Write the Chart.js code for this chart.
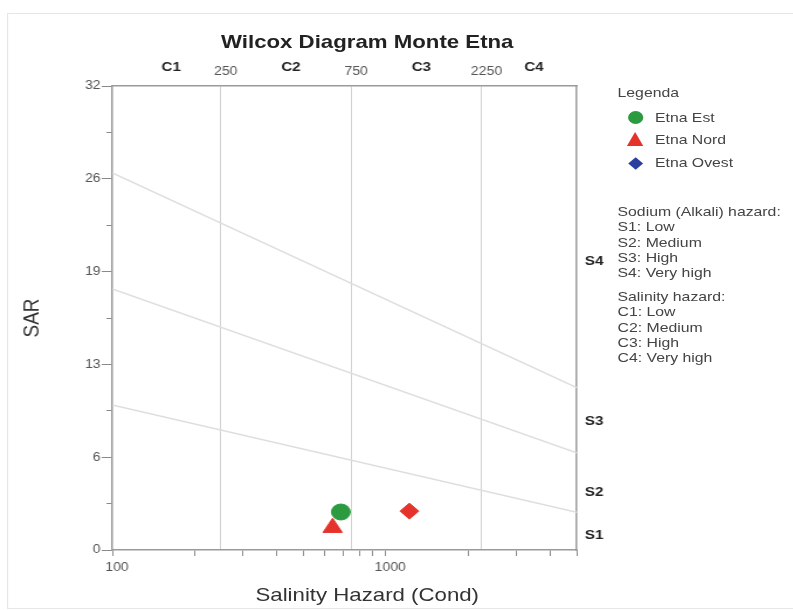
<!DOCTYPE html>
<html>
<head>
<meta charset="utf-8">
<script src="https://cdn.jsdelivr.net/npm/chart.js@4/dist/chart.umd.min.js"></script>
<style>
    html, body { margin: 0; padding: 0; background: #fff; overflow: hidden; width: 793px; height: 610px; }
    #wrap { position: absolute; left: 0; top: 0; width: 678px; height: 610px; transform: scaleX(1.1696); transform-origin: 0 0; font-family: "Liberation Sans", Arial, sans-serif; }
    #frame { position: absolute; left: 6px; top: 13px; width: 720px; height: 594px; border: 1px solid #e6e6e6; }
    #chart { position: absolute; left: 0; top: 0; }
    .txt { position: absolute; white-space: nowrap; }
    #title { left: 314px; top: 30px; transform: translateX(-50%); font-size: 19px; font-weight: bold; color: #222; line-height: 23px; }
    #xtitle { left: 314px; top: 583px; transform: translateX(-50%); font-size: 19px; color: #333; line-height: 23px; }
    #legend { left: 528px; top: 0; font-size: 13.5px; color: #444; }
    #legend .row { position: absolute; left: 0; white-space: nowrap; line-height: 16px; }
    .mk { position: absolute; }
    .block { position: absolute; left: 0; line-height: 15.3px; white-space: nowrap; }
</style>
</head>
<body>
<div id="wrap">
    <div id="frame"></div>
    <canvas id="chart" width="678" height="610"></canvas>
    <div id="title" class="txt">Wilcox Diagram Monte Etna</div>
    <div id="xtitle" class="txt">Salinity Hazard (Cond)</div>
    <div id="legend" class="txt"></div>
</div>
<script>
// salinity (conductivity) axis
const xTickValues = [100, 200, 300, 400, 500, 600, 700, 800, 900, 1000, 2000, 3000, 4000, 5000];
const xTickLabels = ['100', '', '', '', '', '', '', '', '', '1000', '', '', '', ''];
const topTickValues = [158, 250, 433, 750, 1299, 2250, 3354];
const topTickLabels = ['C1', '250', 'C2', '750', 'C3', '2250', 'C4'];

// SAR axis
const sarTickValues = [0, 3.2, 6.4, 9.6, 12.8, 16, 19.2, 22.4, 25.6, 28.8, 32];
const sarTickLabels = ['0', '', '6', '', '13', '', '19', '', '26', '', '32'];
const sClassValues = [1.0, 4.0, 8.9, 19.9];
const sClassLabels = ['S1', 'S2', 'S3', 'S4'];

// hazard class boundaries (SAR at cond 100 and 5000)
const boundaryCond = [100, 5000];
const boundaryS1S2 = [10, 2.6];
const boundaryS2S3 = [18, 6.7];
const boundaryS3S4 = [26, 11.2];

// samples
const sampleNames = ['Etna Est', 'Etna Nord', 'Etna Ovest'];
const sampleCond = [686, 640, 1222];
const sampleSAR = [2.62, 1.54, 2.68];

const legendNotes = [
    ['Sodium (Alkali) hazard:', 'S1: Low', 'S2: Medium', 'S3: High', 'S4: Very high'],
    ['Salinity hazard:', 'C1: Low', 'C2: Medium', 'C3: High', 'C4: Very high']
];

const GREEN = '#2c9a3e';
const RED = '#e5332c';
const BLUE = '#2b3f9e';

Chart.defaults.font.family = '"Liberation Sans", Arial, sans-serif';

function boundary(values) {
    return {
        type: 'line',
        data: boundaryCond.map((c, i) => ({ x: c, y: values[i] })),
        showLine: true,
        borderColor: '#dedede',
        borderWidth: 1.5,
        pointRadius: 0,
        fill: false
    };
}

function sample(i, style, color, radius) {
    return {
        label: sampleNames[i],
        data: [{ x: sampleCond[i], y: sampleSAR[i] }],
        pointStyle: style,
        pointRadius: radius,
        backgroundColor: color,
        borderColor: color,
        borderWidth: 1
    };
}

const ctx = document.getElementById('chart').getContext('2d');
new Chart(ctx, {
    type: 'scatter',
    data: {
        datasets: [
            boundary(boundaryS1S2),
            boundary(boundaryS2S3),
            boundary(boundaryS3S4),
            sample(0, 'circle', GREEN, 8),
            sample(1, 'triangle', RED, 9.5),
            sample(2, 'rectRot', RED, 8)
        ]
    },
    options: {
        responsive: false,
        animation: false,
        layout: { padding: 0 },
        plugins: {
            legend: { display: false },
            tooltip: { enabled: false }
        },
        scales: {
            x: {
                type: 'logarithmic',
                position: 'bottom',
                min: 100,
                max: 5000,
                afterBuildTicks: (scale) => { scale.ticks = xTickValues.map(v => ({ value: v })); },
                afterFit: (scale) => { scale.height = 60; },
                ticks: {
                    callback: (v, i) => xTickLabels[i],
                    autoSkip: false,
                    maxRotation: 0,
                    padding: 4,
                    labelOffset: 4,
                    color: '#555',
                    font: { size: 12 }
                },
                grid: { drawOnChartArea: false, tickLength: 6, tickColor: '#8a8a8a' },
                border: { color: '#9a9a9a', width: 1.5 }
            },
            xTop: {
                type: 'logarithmic',
                position: 'top',
                min: 100,
                max: 5000,
                afterBuildTicks: (scale) => { scale.ticks = topTickValues.map(v => ({ value: v })); },
                afterFit: (scale) => { scale.height = 86; },
                ticks: {
                    callback: (v, i) => topTickLabels[i],
                    autoSkip: false,
                    maxRotation: 0,
                    padding: 7,
                    labelOffset: 4,
                    color: (c) => topTickLabels[c.index].startsWith('C') ? '#222' : '#555',
                    font: (c) => topTickLabels[c.index].startsWith('C')
                        ? { size: 13, weight: 'bold', lineHeight: '24px' }
                        : { size: 12, lineHeight: 1.2 }
                },
                grid: {
                    drawTicks: false,
                    color: (c) => (c.tick && topTickLabels[c.index].startsWith('C')) ? 'rgba(0,0,0,0)' : '#d2d2d2',
                    lineWidth: 1
                },
                border: { color: '#9a9a9a', width: 1.5 }
            },
            y: {
                type: 'linear',
                position: 'left',
                min: 0,
                max: 32,
                afterBuildTicks: (scale) => { scale.ticks = sarTickValues.map(v => ({ value: v })); },
                afterFit: (scale) => { scale.width = 96; },
                title: {
                    display: true,
                    text: 'SAR',
                    color: '#333',
                    font: { size: 19 },
                    padding: { top: 16, bottom: 0 }
                },
                ticks: {
                    callback: (v, i) => sarTickLabels[i],
                    autoSkip: false,
                    padding: 1,
                    color: '#555',
                    font: { size: 12 }
                },
                grid: {
                    drawOnChartArea: false,
                    tickLength: 9,
                    tickColor: '#8a8a8a',
                    tickBorderDash: (c) => sarTickLabels[c.index] === '' ? [0, 4, 5, 20] : []
                },
                border: { color: '#9a9a9a', width: 1.5 }
            },
            yRight: {
                type: 'linear',
                position: 'right',
                min: 0,
                max: 32,
                afterBuildTicks: (scale) => { scale.ticks = sClassValues.map(v => ({ value: v })); },
                afterFit: (scale) => { scale.width = 185; },
                ticks: {
                    callback: (v, i) => sClassLabels[i],
                    autoSkip: false,
                    padding: 7,
                    color: '#222',
                    font: { size: 13, weight: 'bold' }
                },
                grid: { drawOnChartArea: false, drawTicks: false },
                border: { color: '#9a9a9a', width: 1.5 }
            }
        }
    }
});

// legend panel
const legend = document.getElementById('legend');
function addRow(text, top, left) {
    const d = document.createElement('div');
    d.className = 'row';
    d.style.top = top + 'px';
    d.style.left = left + 'px';
    d.textContent = text;
    legend.appendChild(d);
}
addRow('Legenda', 85, 0);

const markerRows = [117.7, 140, 163];
const markerHtml = [
    `<div class="mk" style="left:9px;top:-6.5px;width:13px;height:13px;border-radius:50%;background:${GREEN}"></div>`,
    `<div class="mk" style="left:8px;top:-8px;width:0;height:0;border-left:7.5px solid transparent;border-right:7.5px solid transparent;border-bottom:14px solid ${RED}"></div>`,
    `<div class="mk" style="left:11px;top:-4.5px;width:9px;height:9px;transform:rotate(45deg);background:${BLUE}"></div>`
];
sampleNames.forEach((name, i) => {
    const holder = document.createElement('div');
    holder.style.position = 'absolute';
    holder.style.left = '0';
    holder.style.top = markerRows[i] + 'px';
    holder.innerHTML = markerHtml[i];
    legend.appendChild(holder);
    addRow(name, markerRows[i] - 8, 32);
});

const blockTops = [204, 289];
legendNotes.forEach((lines, b) => {
    const d = document.createElement('div');
    d.className = 'block';
    d.style.top = blockTops[b] + 'px';
    d.innerHTML = lines.join('<br>');
    legend.appendChild(d);
});
</script>
</body>
</html>
